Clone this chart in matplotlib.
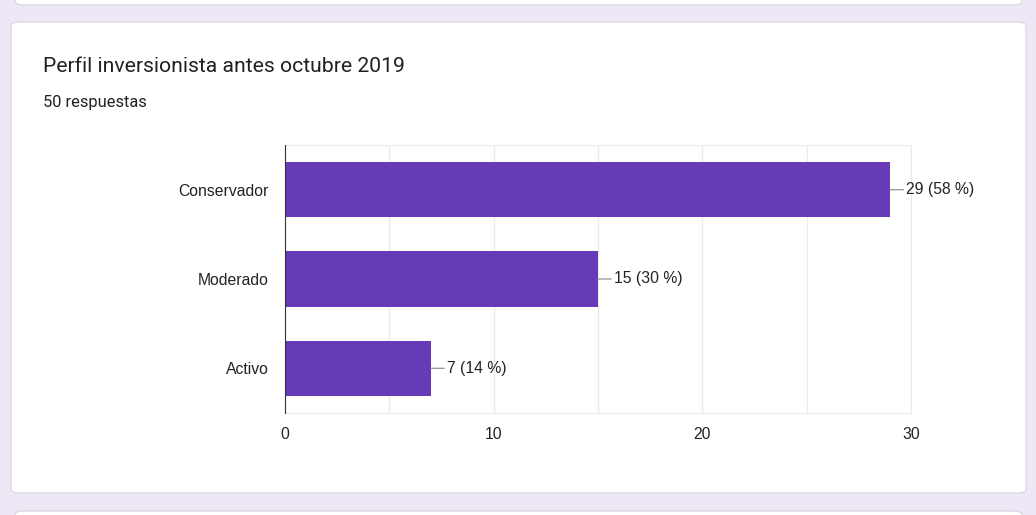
import matplotlib.pyplot as plt
from matplotlib.patches import FancyBboxPatch

# survey answers
categories = ['Conservador', 'Moderado', 'Activo']
counts = [29, 15, 7]
total = 50
title = 'Perfil inversionista antes octubre 2019'
subtitle = f'{total} respuestas'

W, H = 1036, 515
BG = '#ede7f6'
BAR = '#673ab7'


def card(fig, x0, y0, x1, y1):
    # rounded white card, pixel coords measured from the top-left
    p = FancyBboxPatch((x0 / W, 1 - y1 / H), (x1 - x0) / W, (y1 - y0) / H,
                       boxstyle='round,pad=0,rounding_size=0.008',
                       transform=fig.transFigure, facecolor='white',
                       edgecolor='#dcdae3', linewidth=1, zorder=-1)
    fig.patches.append(p)


fig = plt.figure(figsize=(W / 100, H / 100), dpi=100, facecolor=BG)
card(fig, 15, -20, 1022, 5)
card(fig, 11, 22, 1026, 493)
card(fig, 15, 511, 1022, 540)

fig.text(43 / W, 1 - 66 / H, title, fontsize=15.2, family='Roboto',
         color='#202124', va='center')
fig.text(43 / W, 1 - 102 / H, subtitle, fontsize=11.8, family='Roboto',
         color='#202124', va='center')

ax = fig.add_axes([285 / W, 1 - 413 / H, (911 - 285) / W, (413 - 145) / H])
ax.set_zorder(2)
ax.set_facecolor('white')
ypos = list(range(len(categories)))
ax.barh(ypos, counts, height=0.62, color=BAR, zorder=3)

ax.set_xlim(0, 30)
ax.set_ylim(len(categories) - 0.5, -0.5)
ax.set_xticks([0, 10, 20, 30])
ax.set_xticks([5, 15, 25], minor=True)
ax.set_yticks(ypos)
ax.set_yticklabels(categories)
ax.grid(axis='x', which='both', color='#ececec', linewidth=1, zorder=0)
ax.tick_params(length=0, which='both', labelsize=11.3, colors='#222222')
ax.tick_params(axis='y', pad=11.5)
ax.tick_params(axis='x', pad=10)
for lbl in ax.get_xticklabels() + ax.get_yticklabels():
    lbl.set_family('Liberation Sans')

for side in ['top', 'right', 'bottom']:
    ax.spines[side].set_color('#ececec')
ax.spines['left'].set_color('#333333')
ax.spines['left'].set_zorder(4)

# value labels with short leader lines
for y, v in zip(ypos, counts):
    ax.annotate(f'{v} ({v / total * 100:.0f} %)', xy=(v, y), xytext=(11.5, 0),
                textcoords='offset points', va='center', ha='left',
                fontsize=11.3, family='Liberation Sans', color='#222222',
                arrowprops=dict(arrowstyle='-', color='#9e9e9e', lw=1,
                                shrinkA=0, shrinkB=0, relpos=(0, 0.5)),
                annotation_clip=False, zorder=5)

fig.savefig('out.png', dpi=100, facecolor=BG)
